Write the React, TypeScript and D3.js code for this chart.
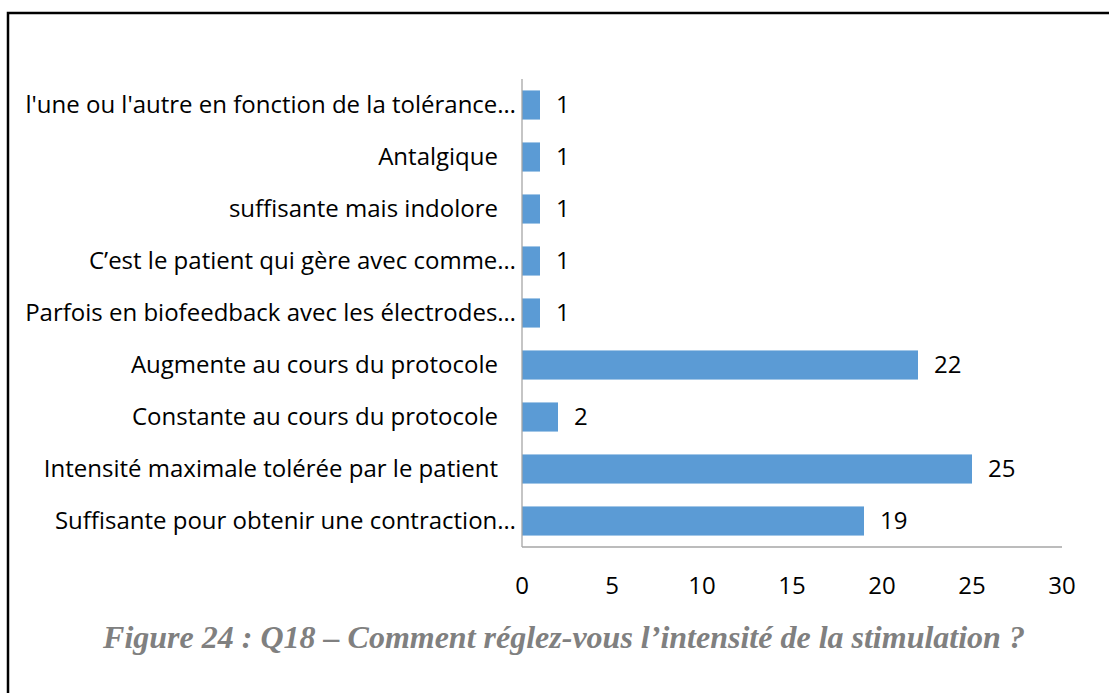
import React, { useEffect, useRef } from 'react';
import * as d3 from 'd3';

const categories = [
  "l'une ou l'autre en fonction de la tolérance…",
  'Antalgique',
  'suffisante mais indolore',
  'C’est le patient qui gère avec comme…',
  'Parfois en biofeedback avec les électrodes…',
  'Augmente au cours du protocole',
  'Constante au cours du protocole',
  'Intensité maximale tolérée par le patient',
  'Suffisante pour obtenir une contraction…',
];
const counts = [1, 1, 1, 1, 1, 22, 2, 25, 19];
const xTicks = [0, 5, 10, 15, 20, 25, 30];
const caption = 'Figure 24 : Q18 – Comment réglez-vous l’intensité de la stimulation ?';

const App = () => {
  const svgRef = useRef<SVGSVGElement>(null);

  useEffect(() => {
    const width = 1109;
    const height = 693;
    const plot = { left: 522, right: 1062, top: 79, bottom: 547 };
    const font = '"Open Sans", "Liberation Sans", sans-serif';
    const fontSize = '24px';

    const svg = d3.select(svgRef.current);
    svg.selectAll('*').remove();
    svg.attr('width', width).attr('height', height);

    svg.append('rect').attr('width', width).attr('height', height).attr('fill', '#fff');

    // frame (only top and left edges are visible in the picture)
    svg.append('rect')
      .attr('x', 8).attr('y', 13)
      .attr('width', 1200).attr('height', 800)
      .attr('fill', 'none').attr('stroke', '#000').attr('stroke-width', 2.5);

    const x = d3.scaleLinear().domain([0, 30]).range([plot.left, plot.right]);
    const y = d3.scaleBand<string>()
      .domain(categories)
      .range([plot.top, plot.bottom])
      .paddingInner(0.44)
      .paddingOuter(0.22);

    svg.append('g')
      .selectAll('rect')
      .data(counts)
      .join('rect')
      .attr('x', x(0))
      .attr('y', (_, i) => y(categories[i])!)
      .attr('width', d => x(d) - x(0))
      .attr('height', y.bandwidth())
      .attr('fill', '#5B9BD5');

    // axes lines
    svg.append('line')
      .attr('x1', x(0)).attr('x2', x(0))
      .attr('y1', plot.top).attr('y2', plot.bottom)
      .attr('stroke', '#A6A6A6').attr('stroke-width', 1.3);
    svg.append('line')
      .attr('x1', x(0)).attr('x2', x(30))
      .attr('y1', plot.bottom).attr('y2', plot.bottom)
      .attr('stroke', '#A6A6A6').attr('stroke-width', 1.3);

    // x tick labels
    svg.append('g')
      .selectAll('text')
      .data(xTicks)
      .join('text')
      .attr('x', d => x(d))
      .attr('y', 594)
      .attr('text-anchor', 'middle')
      .style('font-family', font)
      .style('font-size', fontSize)
      .attr('fill', '#000')
      .text(d => d);

    // category labels
    svg.append('g')
      .selectAll('text')
      .data(categories)
      .join('text')
      .attr('x', d => (d.endsWith('…') ? x(0) - 6 : x(0) - 24))
      .attr('y', d => y(d)! + y.bandwidth() / 2)
      .attr('dy', '0.35em')
      .attr('text-anchor', 'end')
      .style('font-family', font)
      .style('font-size', fontSize)
      .attr('fill', '#000')
      .text(d => d);

    // value labels
    svg.append('g')
      .selectAll('text')
      .data(counts)
      .join('text')
      .attr('x', d => x(d) + 16)
      .attr('y', (_, i) => y(categories[i])! + y.bandwidth() / 2)
      .attr('dy', '0.35em')
      .style('font-family', font)
      .style('font-size', fontSize)
      .attr('fill', '#000')
      .text(d => d);

    svg.append('text')
      .attr('x', 564)
      .attr('y', 648)
      .attr('text-anchor', 'middle')
      .style('font-family', '"Liberation Serif", "Times New Roman", serif')
      .style('font-size', '32px')
      .style('font-weight', 'bold')
      .style('font-style', 'italic')
      .attr('fill', '#808080')
      .text(caption);
  }, []);

  return (
    <svg ref={svgRef} style={{ position: 'absolute', left: 0, top: 0, display: 'block' }}></svg>
  );
};

export default App;
